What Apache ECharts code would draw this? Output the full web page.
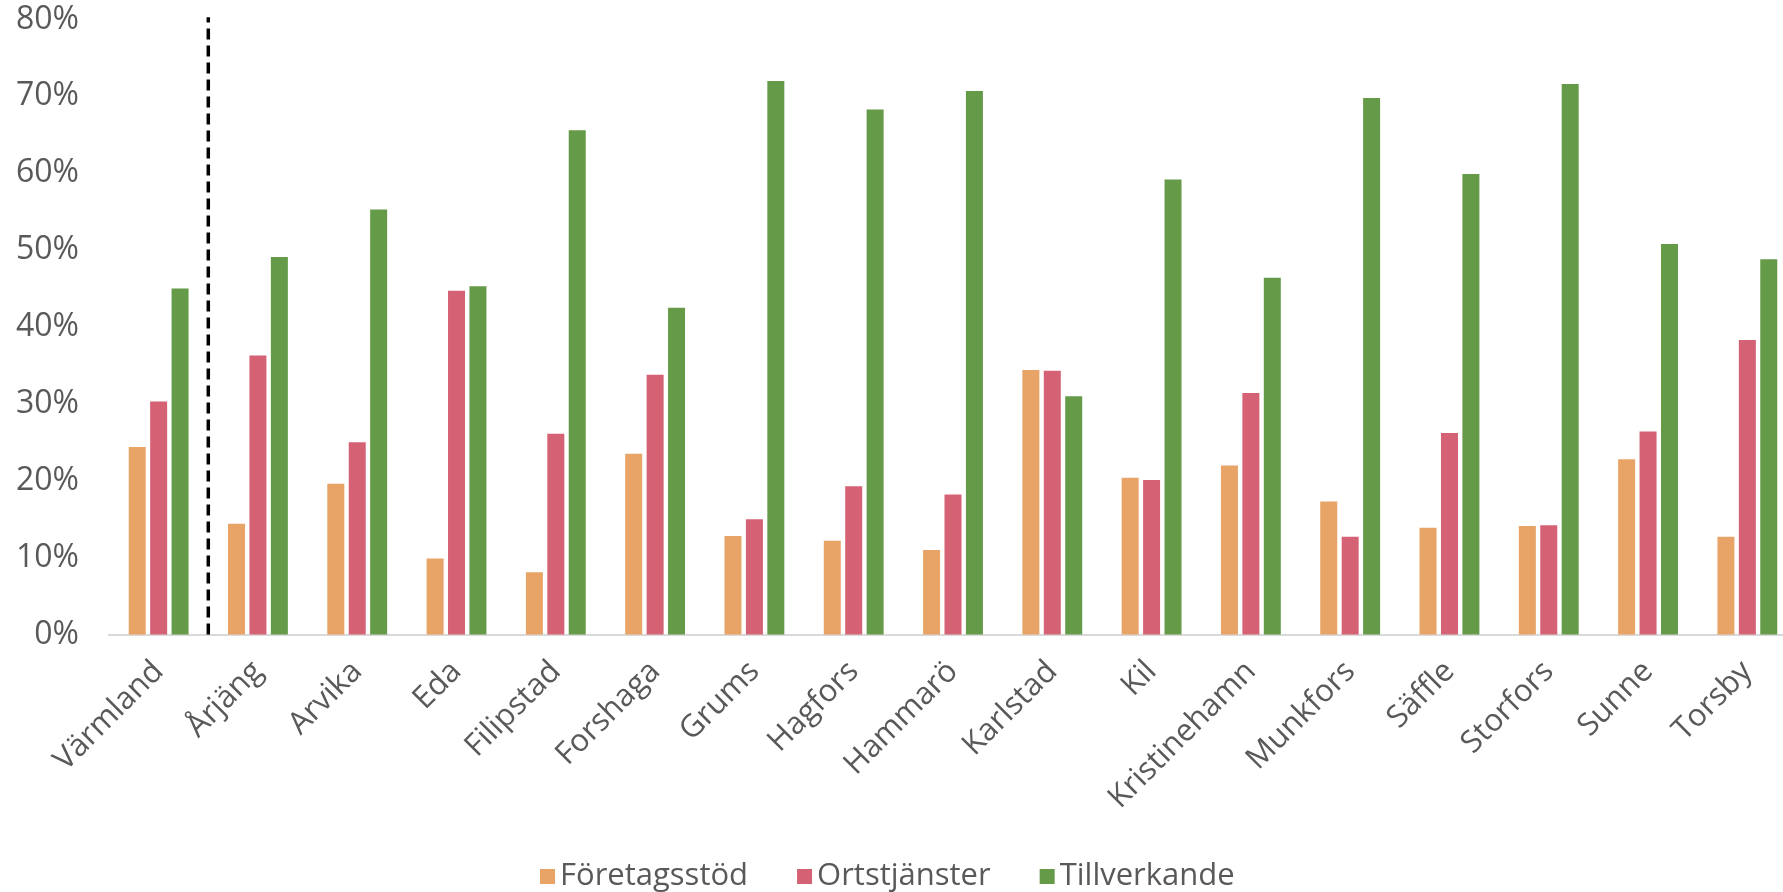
<!DOCTYPE html>
<html>
<head>
<meta charset="utf-8">
<script src="https://cdn.jsdelivr.net/npm/echarts@6/dist/echarts.min.js"></script>
<style>html,body{margin:0;padding:0;background:#fff;overflow:hidden;width:1783px;height:892px;}#c{width:1797px;height:892px;}</style>
</head>
<body>
<div id="c"></div>
<script>
const categories = ['Värmland','Årjäng','Arvika','Eda','Filipstad','Forshaga','Grums','Hagfors','Hammarö','Karlstad','Kil','Kristinehamn','Munkfors','Säffle','Storfors','Sunne','Torsby'];
const foretagsstod = [24.4,14.4,19.6,9.9,8.1,23.5,12.8,12.2,11.0,34.4,20.4,22.0,17.3,13.9,14.1,22.8,12.7];
const ortstjanster = [30.3,36.3,25.0,44.7,26.1,33.8,15.0,19.3,18.2,34.3,20.1,31.4,12.7,26.2,14.2,26.4,38.3];
const tillverkande = [45.0,49.1,55.3,45.3,65.6,42.5,72.0,68.3,70.7,31.0,59.2,46.4,69.8,59.9,71.6,50.8,48.8];
const seriesNames = ['Företagsstöd','Ortstjänster','Tillverkande'];
const dividerAt = 1; // boundary after first category
const dividerRange = [0, 80.3];
const yTicks = [0,10,20,30,40,50,60,70,80];

const FONT = 'Open Sans';
const chart = echarts.init(document.getElementById('c'));
chart.setOption({
  animation: false,
  textStyle: {fontFamily: FONT},
  grid: {left: 109, right: 0, top: 19.5, bottom: 257.5, containLabel: false},
  legend: {
    data: seriesNames, top: 856, left: 535, icon: 'rect',
    itemWidth: 15, itemHeight: 15, itemGap: 49,
    textStyle: {fontSize: 31, color: '#595959', fontFamily: FONT}
  },
  xAxis: [{
    type: 'category', data: categories,
    axisLine: {lineStyle: {color: '#d9d9d9', width: 2}},
    axisTick: {show: false},
    axisLabel: {rotate: 45, fontSize: 31, color: '#595959', margin: 32, interval: 0, fontFamily: FONT}
  }, {
    type: 'value', min: 0, max: categories.length, show: false
  }],
  yAxis: {
    type: 'value', min: yTicks[0], max: yTicks[yTicks.length-1], interval: 10,
    axisLine: {show: false}, axisTick: {show: false}, splitLine: {show: false},
    axisLabel: {formatter: '{value}%', fontSize: 32, color: '#595959', margin: 30, fontFamily: FONT}
  },
  series: [
    {name: seriesNames[0], type: 'bar', data: foretagsstod, barWidth: 17, barGap: '26%', itemStyle: {color: '#E8A467'}},
    {name: seriesNames[1], type: 'bar', data: ortstjanster, barWidth: 17, barGap: '26%', itemStyle: {color: '#D56174'}},
    {name: seriesNames[2], type: 'bar', data: tillverkande, barWidth: 17, barGap: '26%', itemStyle: {color: '#659A48'}},
    {name: 'divider', type: 'line', xAxisIndex: 1, clip: false,
     data: [[dividerAt, dividerRange[0]], [dividerAt, dividerRange[1]]],
     symbol: 'none', silent: true, lineStyle: {color: '#000', width: 3.5, type: [11, 6]}}
  ]
});
</script>
</body>
</html>
